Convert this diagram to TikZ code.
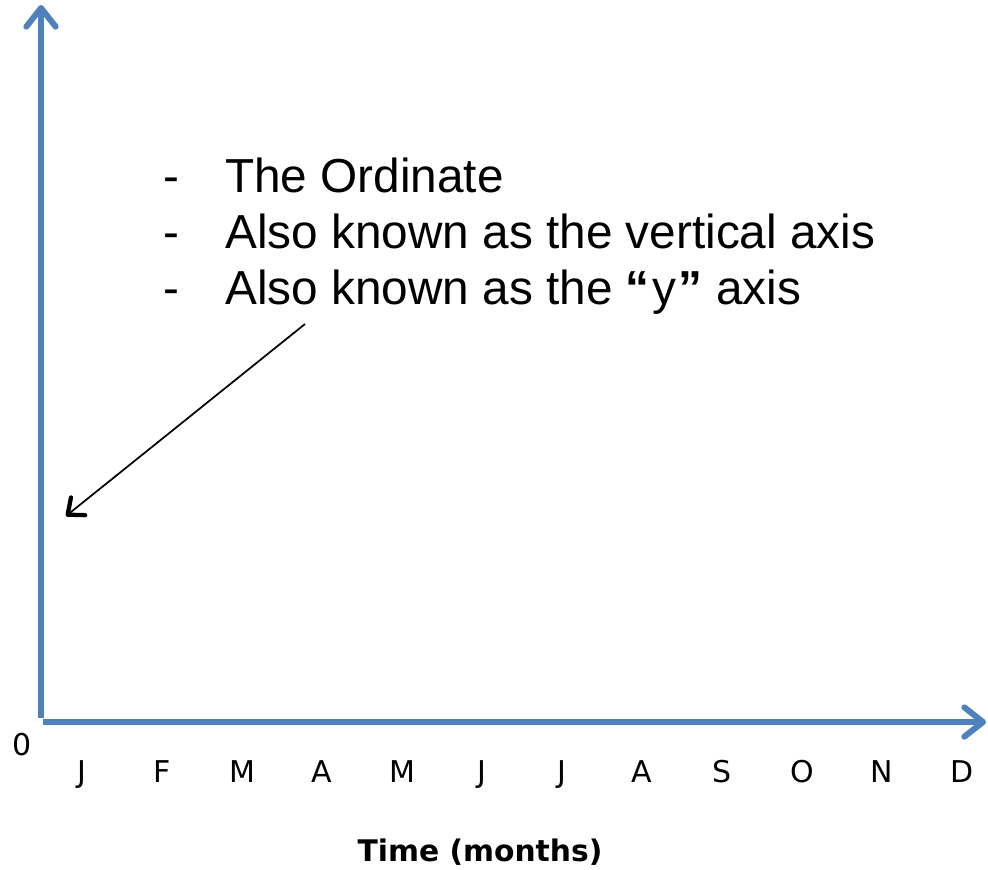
\documentclass[tikz,border=0pt]{standalone}
\usepackage{fontspec}
\setmainfont{Liberation Sans}
\newfontfamily\verd{DejaVu Sans}
\usetikzlibrary{arrows.meta}
\definecolor{axisblue}{HTML}{4F81BD}
\tikzset{
  axisline/.style={draw=axisblue, line width=4.5pt, line cap=butt,
    -{Straight Barb[length=14pt, width=22pt, line width=4.5pt, line cap=round, line join=round]}},
  pointer/.style={draw=black, line width=1.3pt,
    -{Straight Barb[length=10pt, width=17pt, line width=3.2pt, line cap=round, line join=round]}},
  month/.style={font=\verd\fontsize{22.5}{26}\selectfont, anchor=base, inner sep=0pt},
  bullet/.style={font=\fontsize{35.8}{40}\selectfont, anchor=base west, inner sep=0pt},
}
\begin{document}
\begin{tikzpicture}[x=0.75pt,y=-0.75pt]
\useasboundingbox (0,0) rectangle (988,869);
\coordinate (yb) at (41,718);
\coordinate (yt) at (41,5);
\coordinate (xb) at (43,722);
\coordinate (xt) at (986,722);
\draw[axisline] (yb) -- (yt);
\draw[axisline] (xb) -- (xt);
\node[month] (zero) at (22,755) {0};
\foreach \m [count=\i] in {J,F,M,A,M,J,J,A,S,O,N,D}{
  \node[month] (m\i) at ({82+80*(\i-1)},782) {\m};
}
\node[font=\verd\bfseries\fontsize{22.3}{26}\selectfont, anchor=base, inner sep=0pt] (title) at (480,861) {Time (months)};
\node[bullet] (d1) at (163,192) {-};
\node[bullet] (d2) at (163,248) {-};
\node[bullet] (d3) at (163,304) {-};
\node[bullet] (t1) at (225,192) {The Ordinate};
\node[bullet] (t2) at (225,248) {Also known as the vertical axis};
\node[bullet] (t3) at (225,304) {Also known as the \textbf{“}\kern2pt y\kern2pt\textbf{”} axis};
\coordinate (ps) at (305,324);
\coordinate (pe) at (66,516);
\draw[pointer] (ps) -- (pe);
\end{tikzpicture}
\end{document}
